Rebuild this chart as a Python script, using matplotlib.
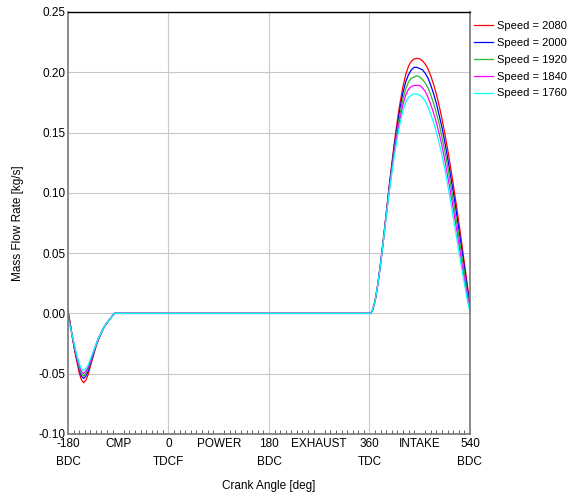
import matplotlib
matplotlib.use('Agg')
import matplotlib.pyplot as plt
import numpy as np

plt.rcParams['font.family'] = ['Liberation Sans', 'DejaVu Sans']

# crank angle points [deg]
ang_back = [-180, -176, -172, -168, -164, -160, -156, -152, -148, -144, -140,
            -135, -130, -125, -120, -116, -112, -107, -102, -97]
ang_flat = [0, 180, 362]
ang_intake = [365, 370, 375, 380, 385, 390, 395, 400, 405, 410, 415, 420, 425,
              430, 435, 440, 445, 450, 455, 460, 465, 470, 475, 480, 485, 490,
              495, 500, 505, 510, 515, 520, 525, 530, 535, 540]

speeds = [2080, 2000, 1920, 1840, 1760]
colors = ['#ff0000', '#0000ff', '#2cb82c', '#ff00ff', '#00ffff']

back_2080 = [0.003, -0.008, -0.020, -0.031, -0.040, -0.049, -0.055, -0.0575, -0.0555, -0.051,
             -0.044, -0.036, -0.028, -0.021, -0.016, -0.012, -0.009, -0.006, -0.003, 0.0]
back_2000 = [0.001, -0.009, -0.020, -0.030, -0.038, -0.046, -0.052, -0.054, -0.052, -0.048,
             -0.042, -0.035, -0.027, -0.021, -0.016, -0.012, -0.009, -0.006, -0.003, 0.0]
back_1920 = [0.0, -0.009, -0.019, -0.029, -0.037, -0.045, -0.050, -0.052, -0.050, -0.046,
             -0.041, -0.034, -0.027, -0.020, -0.016, -0.012, -0.009, -0.006, -0.003, 0.0]
back_1840 = [-0.002, -0.010, -0.019, -0.028, -0.036, -0.043, -0.048, -0.050, -0.048, -0.045,
             -0.040, -0.033, -0.026, -0.020, -0.016, -0.012, -0.009, -0.006, -0.003, 0.0]
back_1760 = [-0.004, -0.011, -0.019, -0.027, -0.035, -0.041, -0.046, -0.0475, -0.046, -0.043,
             -0.038, -0.032, -0.026, -0.020, -0.016, -0.012, -0.009, -0.006, -0.003, 0.0]

flat = [0.0, 0.0, 0.0]

intake_2080 = [0.002, 0.010, 0.024, 0.042, 0.062, 0.083, 0.104, 0.124, 0.143, 0.160, 0.175, 0.188,
               0.198, 0.205, 0.209, 0.211, 0.2115, 0.211, 0.2095, 0.2067, 0.2025, 0.1968, 0.1898,
               0.1816, 0.1720, 0.1611, 0.1492, 0.1363, 0.1222, 0.1074, 0.0921, 0.0760, 0.0593,
               0.0420, 0.0247, 0.0070]
intake_2000 = [0.002, 0.010, 0.024, 0.042, 0.061, 0.082, 0.103, 0.122, 0.140, 0.156, 0.171, 0.183,
               0.192, 0.198, 0.202, 0.204, 0.204, 0.203, 0.202, 0.199, 0.195, 0.189, 0.182,
               0.174, 0.164, 0.154, 0.142, 0.129, 0.115, 0.101, 0.086, 0.070, 0.054,
               0.038, 0.022, 0.006]
intake_1920 = [0.002, 0.010, 0.024, 0.041, 0.061, 0.081, 0.101, 0.120, 0.137, 0.153, 0.166, 0.178,
               0.186, 0.192, 0.195, 0.196, 0.197, 0.196, 0.194, 0.191, 0.187, 0.181, 0.174,
               0.166, 0.157, 0.146, 0.135, 0.122, 0.108, 0.094, 0.079, 0.064, 0.049,
               0.034, 0.018, 0.004]
intake_1840 = [0.002, 0.010, 0.024, 0.041, 0.060, 0.081, 0.100, 0.118, 0.135, 0.150, 0.162, 0.173,
               0.181, 0.186, 0.188, 0.189, 0.189, 0.189, 0.187, 0.184, 0.179, 0.173, 0.166,
               0.158, 0.149, 0.139, 0.127, 0.114, 0.101, 0.087, 0.073, 0.058, 0.043,
               0.029, 0.015, 0.003]
intake_1760 = [0.002, 0.010, 0.024, 0.041, 0.060, 0.080, 0.099, 0.116, 0.132, 0.146, 0.158, 0.168,
               0.175, 0.179, 0.181, 0.182, 0.182, 0.181, 0.179, 0.176, 0.171, 0.165, 0.158,
               0.150, 0.141, 0.131, 0.120, 0.107, 0.094, 0.080, 0.066, 0.052, 0.038,
               0.025, 0.012, 0.001]

back = [back_2080, back_2000, back_1920, back_1840, back_1760]
intake = [intake_2080, intake_2000, intake_1920, intake_1840, intake_1760]

tick_pos = [-180, -90, 0, 90, 180, 270, 360, 450, 540]
tick_lbl = ['-180\nBDC', 'CMP', '0\nTDCF', 'POWER', '180\nBDC', 'EXHAUST',
            '360\nTDC', 'INTAKE', '540\nBDC']

FS = 8.5

fig = plt.figure(figsize=(5.71, 4.96), dpi=100)
ax = fig.add_axes([0.119, 0.125, 0.704, 0.851])

x = ang_back + ang_flat + ang_intake
for s, c, b, it in zip(speeds, colors, back, intake):
    ax.plot(x, b + flat + it, color=c, lw=0.9, label=f'Speed = {s}')

ax.set_xlim(-180, 540)
ax.set_ylim(-0.10, 0.25)
ax.set_yticks(np.arange(-0.10, 0.251, 0.05))
ax.yaxis.set_major_formatter(matplotlib.ticker.FormatStrFormatter('%.2f'))
ax.set_xticks(tick_pos)
ax.set_xticklabels(tick_lbl, linespacing=1.6)
ax.set_xticks(np.arange(-170, 540, 10), minor=True)
ax.tick_params(axis='x', which='major', length=0, pad=3, labelsize=FS)
ax.tick_params(axis='x', which='minor', direction='in', length=3, width=0.6, color='#444444')
ax.tick_params(axis='y', which='major', length=0, pad=2, labelsize=FS)

ax.yaxis.grid(True, color='#c8c8c8', lw=0.8)
for v in [0, 180, 360]:
    ax.axvline(v, color='#c8c8c8', lw=0.8, zorder=0)

for side in ['left', 'bottom', 'right']:
    ax.spines[side].set_color('#777777')
    ax.spines[side].set_linewidth(1.2)
ax.spines['top'].set_color('black')
ax.spines['top'].set_linewidth(1.0)

ax.set_xlabel('Crank Angle [deg]', fontsize=FS, labelpad=9)
ax.set_ylabel('Mass Flow Rate [kg/s]', fontsize=FS, labelpad=10)

ax.legend(loc='upper left', bbox_to_anchor=(1.0, 0.988), frameon=False,
          fontsize=8, handlelength=1.7, handletextpad=0.35, labelspacing=0.62,
          borderaxespad=0.0, borderpad=0.35)

fig.savefig('out.png', dpi=100)
